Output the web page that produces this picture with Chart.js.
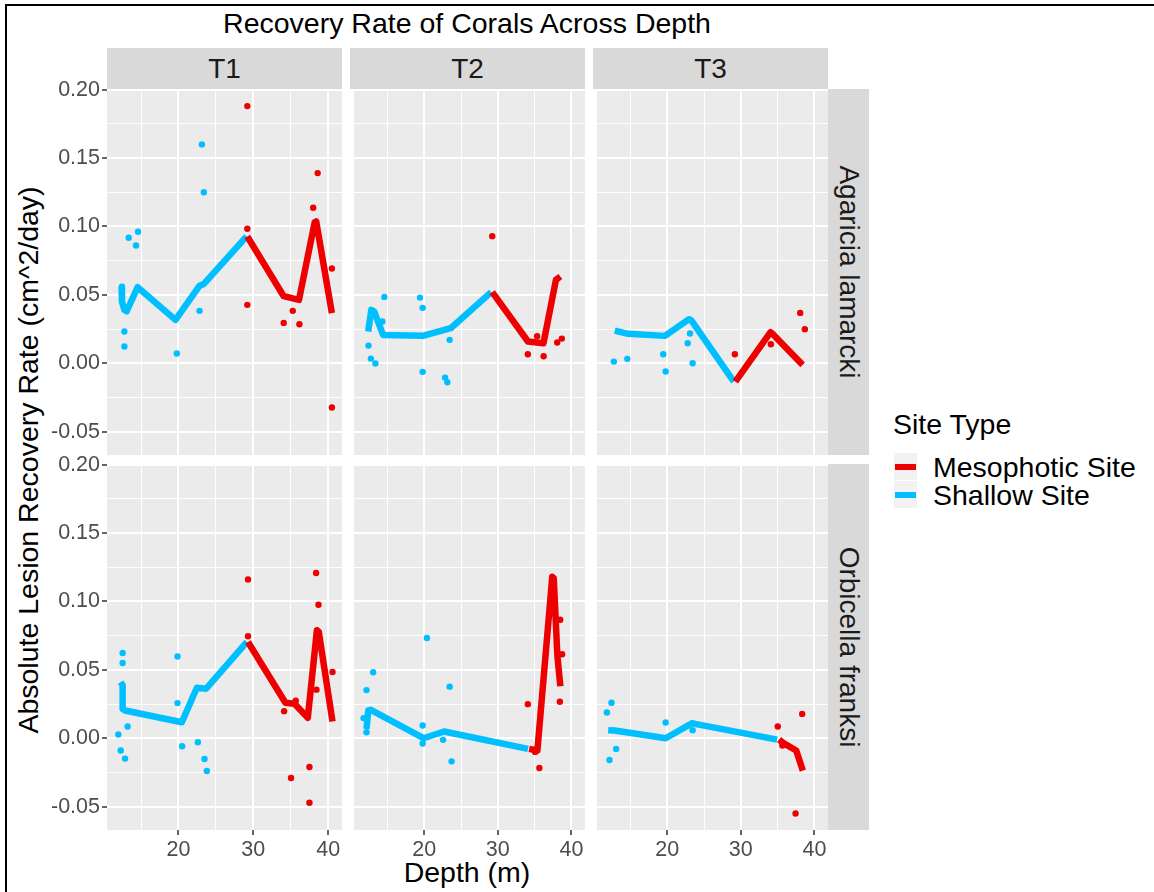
<!DOCTYPE html>
<html>
<head>
<meta charset="utf-8">
<script src="https://cdn.jsdelivr.net/npm/chart.js@4.4.1/dist/chart.umd.min.js"></script>
<style>
  body { margin: 0; background: #fff; width: 1154px; height: 892px; overflow: hidden; position: relative;
         font-family: 'Liberation Sans', Arial, sans-serif; }
  .abs { position: absolute; }
  .lbl { position: absolute; line-height: 1; white-space: nowrap; }
  .strip { position: absolute; background: #D9D9D9; }
  canvas { position: absolute; }
</style>
</head>
<body>
<div class="abs" style="left:5px;top:4px;width:1170px;height:910px;border:2px solid #000;"></div>

<div class="lbl" style="left:467px;top:23px;font-size:28.5px;color:#000;transform:translate(-50%,-50%);">Recovery Rate of Corals Across Depth</div>
<div class="lbl" style="left:467px;top:872px;font-size:28.5px;color:#000;transform:translate(-50%,-50%);">Depth (m)</div>
<div class="lbl" style="left:28px;top:460px;font-size:28.5px;color:#000;transform:translate(-50%,-50%) rotate(-90deg);">Absolute Lesion Recovery Rate (cm^2/day)</div>

<div id="strips"></div>

<div class="lbl" style="left:893px;top:424px;font-size:28.5px;color:#000;transform:translateY(-50%);">Site Type</div>
<div class="abs" style="left:894px;top:453px;width:23px;height:27px;background:#F2F2F2;"></div>
<div class="abs" style="left:895px;top:464px;width:21px;height:6px;background:#EE0000;"></div>
<div class="abs" style="left:894px;top:481px;width:23px;height:27px;background:#F2F2F2;"></div>
<div class="abs" style="left:895px;top:492px;width:21px;height:6px;background:#00BFFF;"></div>
<div class="lbl" style="left:933px;top:467px;font-size:28.5px;color:#000;transform:translateY(-50%);">Mesophotic Site</div>
<div class="lbl" style="left:933px;top:495px;font-size:28.5px;color:#000;transform:translateY(-50%);">Shallow Site</div>

<script>
// facet labels
const timepoints = ['T1', 'T2', 'T3'];
const species = ['Agaricia lamarcki', 'Orbicella franksi'];

// axis breaks (majors get labels, minors only grid)
const xBreaks = [15, 20, 25, 30, 35, 40];
const xLabels = ['20', '30', '40'];
const yBreaks = [-0.05, -0.025, 0, 0.025, 0.05, 0.075, 0.1, 0.125, 0.15, 0.175, 0.2];
const yLabels = ['-0.05', '0.00', '0.05', '0.10', '0.15', '0.20'];

// Agaricia lamarcki, T1  [depth, rate]
const agaT1ShallowPts = [[13.35,0.0917],[14.6,0.0961],[14.33,0.0861],[12.77,0.0232],[12.77,0.0122],[19.78,0.0071],[23.13,0.160],[23.39,0.125],[22.81,0.0383]];
const agaT1MesoPts = [[29.2,0.188],[29.2,0.0983],[29.2,0.0427],[38.6,0.139],[38.0,0.1137],[40.5,0.0693],[40.5,-0.0324],[34.06,0.0295],[35.27,0.0383],[36.16,0.0285]];
const agaT1ShallowLine = [[12.4,0.056],[12.45,0.045],[12.77,0.039],[13.08,0.038],[14.55,0.0556],[19.6,0.0317],[22.8,0.0566],[23.4,0.058],[29.1,0.0927]];
const agaT1MesoLine = [[29.2,0.0927],[34.06,0.049],[36.1,0.0463],[38.2,0.103],[38.4,0.1037],[40.5,0.0366]];

// Agaricia lamarcki, T2
const agaT2ShallowPts = [[14.57,0.0485],[19.42,0.048],[19.78,0.0405],[14.3,0.0305],[12.42,0.0129],[12.74,0.0034],[13.36,-0.0002],[19.78,-0.0063],[22.83,-0.0105],[23.14,-0.0139],[23.45,0.0171]];
const agaT2MesoPts = [[29.24,0.0929],[34.08,0.0066],[35.34,0.0198],[36.23,0.0051],[38.07,0.0151],[38.7,0.018]];
const agaT2ShallowLine = [[12.38,0.0232],[12.8,0.039],[13.2,0.0378],[14.4,0.0207],[19.8,0.020],[23.1,0.0249],[23.6,0.0256],[29.1,0.052]];
const agaT2MesoLine = [[29.24,0.052],[34.1,0.0159],[36.2,0.0146],[37.9,0.061],[38.5,0.0634]];

// Agaricia lamarcki, T3
const agaT3ShallowPts = [[12.74,0.0012],[14.57,0.0032],[19.46,0.0066],[19.78,-0.0061],[22.78,0.0146],[23.09,0.0217],[23.45,0.0]];
const agaT3MesoPts = [[29.19,0.0066],[34.08,0.0139],[38.07,0.0368],[38.7,0.0249]];
const agaT3ShallowLine = [[12.87,0.0239],[14.66,0.0215],[19.69,0.020],[22.96,0.0322],[23.3,0.0312],[29.05,-0.0134]];
const agaT3MesoLine = [[29.26,-0.0134],[34.04,0.0227],[34.3,0.0215],[38.4,-0.0012]];

// Orbicella franksi, T1
const orbT1ShallowPts = [[12.54,0.0623],[12.54,0.055],[19.87,0.0597],[19.87,0.0257],[13.21,0.0086],[11.96,0.0027],[12.28,-0.009],[12.86,-0.0149],[20.49,-0.0059],[22.59,-0.0029],[23.48,-0.0152],[23.79,-0.024]];
const orbT1MesoPts = [[29.29,0.116],[29.29,0.0746],[38.39,0.1208],[38.71,0.0976],[40.58,0.0484],[38.44,0.0355],[35.67,0.0274],[34.11,0.0198],[35.04,-0.0291],[37.5,-0.021],[37.5,-0.0472]];
const orbT1ShallowLine = [[12.28,0.041],[12.54,0.0386],[12.54,0.0215],[12.86,0.0203],[20.45,0.0117],[22.46,0.0369],[23.7,0.0362],[29.15,0.0704]];
const orbT1MesoLine = [[29.29,0.0704],[34.29,0.0259],[35.5,0.0252],[37.28,0.0149],[38.5,0.079],[38.75,0.0777],[40.58,0.0122]];

// Orbicella franksi, T2
const orbT2ShallowPts = [[13.05,0.0482],[12.15,0.0352],[11.75,0.0147],[12.15,0.0044],[20.36,0.0733],[19.78,0.0093],[19.78,-0.0039],[22.56,-0.0012],[23.45,0.0377],[23.72,-0.0169]];
const orbT2MesoPts = [[34.08,0.0249],[35.07,-0.01],[35.65,-0.0218],[38.48,0.0866],[38.74,0.0614],[38.43,0.0267]];
const orbT2ShallowLine = [[12.15,0.0068],[12.38,0.0203],[12.74,0.0208],[19.9,0.0],[22.7,0.0049],[34.1,-0.0078]];
const orbT2MesoLine = [[34.26,-0.0078],[35.38,-0.009],[37.4,0.118],[37.6,0.117],[38.1,0.06],[38.5,0.038]];

// Orbicella franksi, T3
const orbT3ShallowPts = [[12.42,0.0259],[11.79,0.0188],[13.05,-0.0078],[12.15,-0.0159],[19.78,0.0115],[23.45,0.0059]];
const orbT3MesoPts = [[35.02,0.0086],[35.65,-0.0054],[38.34,0.0178],[37.44,-0.055]];
const orbT3ShallowLine = [[11.97,0.0059],[12.87,0.0056],[19.78,0.0],[23.4,0.011],[23.77,0.0105],[34.93,-0.001]];
const orbT3MesoLine = [[35.2,-0.001],[35.74,-0.0034],[37.53,-0.009],[38.43,-0.0237]];

const panels = [
  [ [agaT1ShallowPts, agaT1MesoPts, agaT1ShallowLine, agaT1MesoLine],
    [agaT2ShallowPts, agaT2MesoPts, agaT2ShallowLine, agaT2MesoLine],
    [agaT3ShallowPts, agaT3MesoPts, agaT3ShallowLine, agaT3MesoLine] ],
  [ [orbT1ShallowPts, orbT1MesoPts, orbT1ShallowLine, orbT1MesoLine],
    [orbT2ShallowPts, orbT2MesoPts, orbT2ShallowLine, orbT2MesoLine],
    [orbT3ShallowPts, orbT3MesoPts, orbT3ShallowLine, orbT3MesoLine] ]
];

const RED = '#EE0000', BLUE = '#00BFFF';
const FONT = "'Liberation Sans', Arial, sans-serif";

// panel geometry
const colLeft = [107, 350, 593];
const rowTop = [89, 464];
const panelW = 235, panelH = 366;
const padTop = 20, padRight = 12, padBottom = 20;

// strips
const strips = document.getElementById('strips');
timepoints.forEach((t, i) => {
  strips.insertAdjacentHTML('beforeend',
    `<div class="strip" style="left:${colLeft[i]}px;top:48px;width:${panelW}px;height:41px;"></div>` +
    `<div class="lbl" style="left:${colLeft[i] + panelW / 2}px;top:68.5px;font-size:28px;color:#1A1A1A;transform:translate(-50%,-50%);">${t}</div>`);
});
species.forEach((s, j) => {
  strips.insertAdjacentHTML('beforeend',
    `<div class="strip" style="left:828px;top:${rowTop[j]}px;width:41px;height:${panelH}px;"></div>` +
    `<div class="lbl" style="left:848.5px;top:${rowTop[j] + panelH / 2}px;font-size:28px;color:#1A1A1A;transform:translate(-50%,-50%) rotate(90deg);">${s}</div>`);
});

const panelBg = {
  id: 'panelBg',
  beforeDraw(chart) {
    const { ctx, chartArea: a } = chart;
    ctx.save();
    ctx.fillStyle = '#EBEBEB';
    ctx.fillRect(a.left, a.top, a.right - a.left, a.bottom - a.top);
    ctx.restore();
  }
};

const isMajorX = v => v % 10 === 0;
const isMajorY = v => Math.abs(Math.round(v * 1000) % 50) === 0;

function toXY(arr) { return arr.map(([x, y]) => ({ x, y })); }

function makePanel(row, col) {
  const [sPts, mPts, sLine, mLine] = panels[row][col];
  const yW = col === 0 ? 70 : 0;
  const xH = row === 1 ? 34 : 0;
  const padB = row === 1 ? 0 : padBottom;
  const cv = document.createElement('canvas');
  cv.width = yW + panelW + padRight;
  cv.height = padTop + panelH + xH + padB;
  cv.style.left = (colLeft[col] - yW) + 'px';
  cv.style.top = (rowTop[row] - padTop) + 'px';
  document.body.appendChild(cv);

  new Chart(cv, {
    type: 'scatter',
    data: {
      datasets: [
        { data: toXY(mLine), showLine: true, borderColor: RED, borderWidth: 6.5, pointRadius: 0,
          borderCapStyle: 'butt', borderJoinStyle: 'round', order: 1 },
        { data: toXY(sLine), showLine: true, borderColor: BLUE, borderWidth: 6.5, pointRadius: 0,
          borderCapStyle: 'butt', borderJoinStyle: 'round', order: 1 },
        { data: toXY(mPts), pointRadius: 3.2, pointBorderWidth: 0, pointBackgroundColor: RED, order: 2 },
        { data: toXY(sPts), pointRadius: 3.2, pointBorderWidth: 0, pointBackgroundColor: BLUE, order: 2 }
      ]
    },
    options: {
      responsive: false,
      animation: false,
      layout: { padding: { top: padTop, right: padRight, left: 0, bottom: padB } },
      plugins: { legend: { display: false }, tooltip: { enabled: false } },
      scales: {
        x: {
          type: 'linear', min: 10.45, max: 41.85,
          afterBuildTicks: s => { s.ticks = xBreaks.map(v => ({ value: v })); },
          afterFit: s => { s.height = xH; },
          border: { display: false },
          grid: {
            color: '#FFFFFF',
            lineWidth: c => isMajorX(c.tick.value) ? 2 : 1,
            drawTicks: row === 1,
            tickLength: 5,
            tickWidth: 1.5,
            tickColor: c => (row === 1 && isMajorX(c.tick.value)) ? '#333333' : 'rgba(0,0,0,0)'
          },
          ticks: {
            display: row === 1,
            autoSkip: false, maxRotation: 0, padding: 2,
            color: '#4D4D4D',
            font: { family: FONT, size: 21.5 },
            callback: v => isMajorX(v) ? xLabels[v / 10 - 2] : ''
          }
        },
        y: {
          type: 'linear', min: -0.0671, max: 0.2005,
          afterBuildTicks: s => { s.ticks = yBreaks.map(v => ({ value: v })); },
          afterFit: s => { s.width = yW; },
          border: { display: false },
          grid: {
            color: '#FFFFFF',
            lineWidth: c => isMajorY(c.tick.value) ? 2 : 1,
            drawTicks: col === 0,
            tickLength: 5,
            tickWidth: 1.5,
            tickColor: c => (col === 0 && isMajorY(c.tick.value)) ? '#333333' : 'rgba(0,0,0,0)'
          },
          ticks: {
            display: col === 0,
            autoSkip: false, padding: 2,
            color: '#4D4D4D',
            font: { family: FONT, size: 21.5 },
            callback: v => isMajorY(v) ? yLabels[Math.round(v * 20) + 1] : ''
          }
        }
      }
    },
    plugins: [panelBg]
  });
}

for (let r = 0; r < 2; r++) for (let c = 0; c < 3; c++) makePanel(r, c);
</script>
</body>
</html>
